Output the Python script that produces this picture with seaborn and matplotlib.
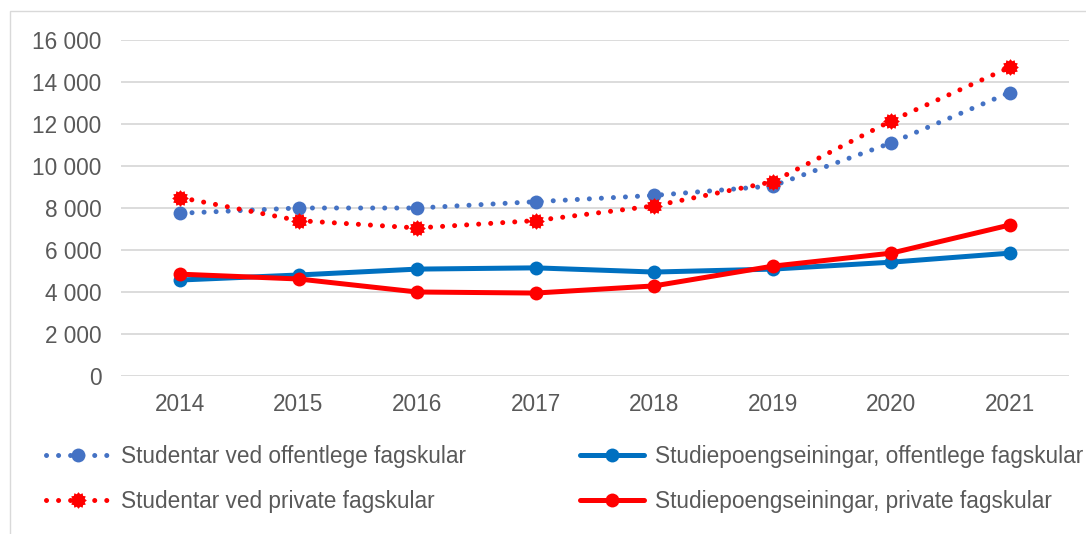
import numpy as np
import pandas as pd
import seaborn as sns
import matplotlib.pyplot as plt
from matplotlib.path import Path
from matplotlib.patches import Rectangle

# Data
years = ["2014", "2015", "2016", "2017", "2018", "2019", "2020", "2021"]
stud_offentleg = [7750, 8000, 8000, 8300, 8600, 9050, 11100, 13500]
stud_private = [8500, 7400, 7050, 7400, 8100, 9250, 12150, 14700]
sp_offentleg = [4570, 4810, 5090, 5150, 4950, 5090, 5420, 5850]
sp_private = [4850, 4620, 4000, 3950, 4290, 5230, 5850, 7190]

labels = [
    "Studentar ved offentlege fagskular",
    "Studentar ved private fagskular",
    "Studiepoengseiningar, offentlege fagskular",
    "Studiepoengseiningar, private fagskular",
]

sns.set_style("white")
plt.rcParams["font.family"] = ["Liberation Sans", "DejaVu Sans"]
grey_text = "#595959"

# serrated circle marker for the private students series
n = 24
ang = np.linspace(0, 2 * np.pi, n, endpoint=False)
rad = np.where(np.arange(n) % 2 == 0, 1.0, 0.78)
verts = np.column_stack([rad * np.cos(ang), rad * np.sin(ang)])
verts = np.vstack([verts, verts[:1]])
codes = [Path.MOVETO] + [Path.LINETO] * (n - 1) + [Path.CLOSEPOLY]
gear = Path(verts, codes)

fig = plt.figure(figsize=(10.86, 5.34), dpi=100)
ax = fig.add_axes([120.7 / 1086, 158 / 534, 948.3 / 1086, 336 / 534])

x = np.arange(len(years))
dotted = (0, (0.01, 2.4))

series = [
    (stud_offentleg, "#4472C4", "o", 10, dotted),
    (stud_private, "#FF0000", gear, 12, dotted),
    (sp_offentleg, "#0070C0", "o", 10, "-"),
    (sp_private, "#FF0000", "o", 10, "-"),
]

handles = []
for (vals, col, mk, ms, ls), lab in zip(series, labels):
    df = pd.DataFrame({"x": x, "y": vals})
    sns.lineplot(data=df, x="x", y="y", ax=ax, color=col, marker=mk,
                 markersize=ms, markeredgewidth=0, linewidth=3.6,
                 linestyle=ls, dash_capstyle="round", label=lab, legend=False)
    handles.append(ax.lines[-1])

ax.set_xlim(-0.5, len(years) - 0.5)
ax.set_ylim(0, 16000)
ax.set_xticks(x)
ax.set_xticklabels(years)
yt = np.arange(0, 16001, 2000)
ax.set_yticks(yt)
ax.set_yticklabels([f"{v:,}".replace(",", " ") for v in yt])
ax.set_xlabel("")
ax.set_ylabel("")
ax.grid(axis="y", color="#D9D9D9", linewidth=1.3)
ax.set_axisbelow(True)
for s in ax.spines.values():
    s.set_visible(False)
ax.tick_params(axis="both", length=0, labelsize=16.3, colors=grey_text)
ax.tick_params(axis="y", pad=14)
ax.tick_params(axis="x", pad=12)

fig.legend(handles, labels, loc="upper left", bbox_to_anchor=(35 / 1086, 1 - 434 / 534),
           ncol=2, frameon=False, fontsize=16.3, handlelength=2.8, handletextpad=0.5,
           columnspacing=5.05, labelspacing=0.97, borderpad=0, labelcolor=grey_text)

fig.add_artist(Rectangle((10 / 1086, -0.2), 2, 1.2 - 11 / 534, transform=fig.transFigure,
                         fill=False, edgecolor="#D9D9D9", linewidth=1))

fig.savefig("out.png", dpi=100)
